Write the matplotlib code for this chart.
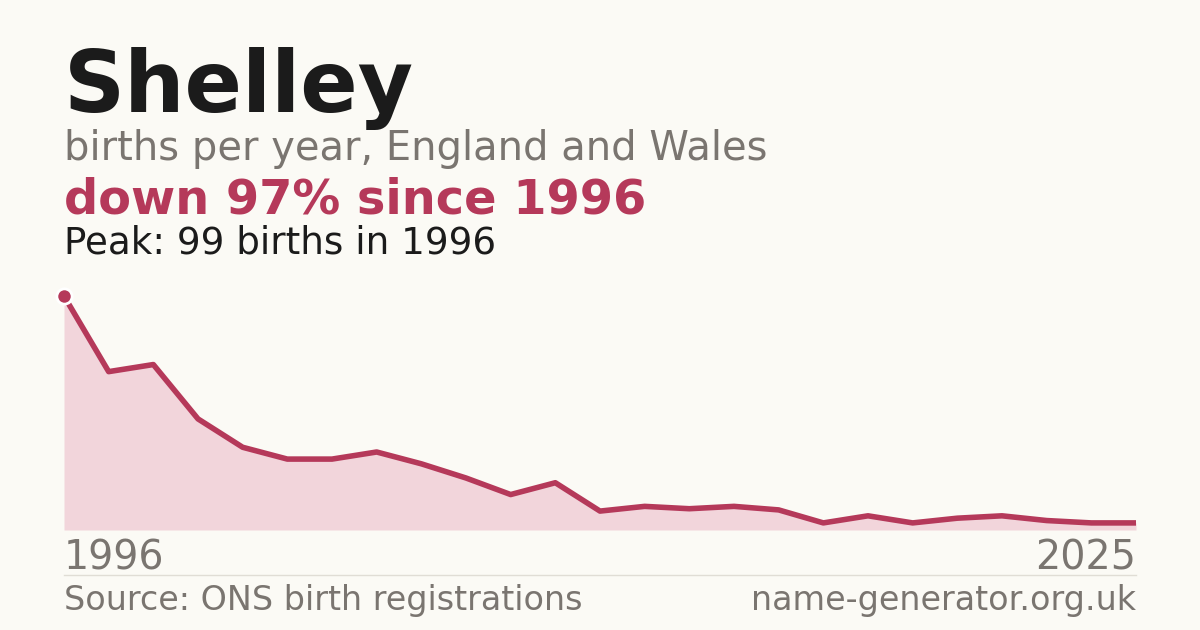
import matplotlib
matplotlib.use("Agg")
import matplotlib.pyplot as plt

name = "Shelley"
first_year, last_year = 1996, 2025
births = [99, 67, 70, 47, 35, 30, 30, 33, 28, 22, 15, 20, 8, 10, 9, 10, 8.5, 3, 6, 3, 5, 6, 4, 3, 3]

bg = "#fbfaf5"
red = "#b5395a"
fill = "#f2d5db"
grey = "#7a7570"

W, H = 1200, 630
fig = plt.figure(figsize=(W / 100, H / 100), dpi=100, facecolor=bg)

def fy(py):
    return 1 - py / H

fig.text(64 / W, fy(112), name, fontsize=61, fontweight="bold", color="#1b1b1b", va="baseline")
fig.text(64 / W, fy(160), "births per year, England and Wales", fontsize=28.8, color=grey, va="baseline")
fig.text(64 / W, fy(214), "down 97% since 1996", fontsize=34.5, fontweight="bold", color=red, va="baseline")
fig.text(64 / W, fy(254), "Peak: 99 births in 1996", fontsize=26.8, color="#1b1b1b", va="baseline")

ax = fig.add_axes([64 / W, fy(530), 1072 / W, 234 / H])
ax.set_facecolor(bg)
x = list(range(len(births)))
ax.fill_between(x, births, 0, color=fill, lw=0)
ax.plot(x, births, color=red, lw=4, solid_joinstyle="round")
ax.plot([0], [births[0]], "o", ms=11, color=red, mec="white", mew=2, clip_on=False, zorder=5)
ax.set_xlim(0, len(births) - 1)
ax.set_ylim(0, max(births))
ax.axis("off")

fig.text(64 / W, fy(569), str(first_year), fontsize=28.5, color=grey, va="baseline")
fig.text(1136 / W, fy(569), str(last_year), fontsize=28.5, color=grey, va="baseline", ha="right")
fig.add_artist(plt.Line2D([64 / W, 1136 / W], [fy(575), fy(575)], color="#e0ddd5", lw=1))
fig.text(64 / W, fy(610), "Source: ONS birth registrations", fontsize=24, color=grey, va="baseline")
fig.text(1136 / W, fy(610), "name-generator.org.uk", fontsize=24, color=grey, va="baseline", ha="right")

fig.savefig("out.png", dpi=100, facecolor=bg)
